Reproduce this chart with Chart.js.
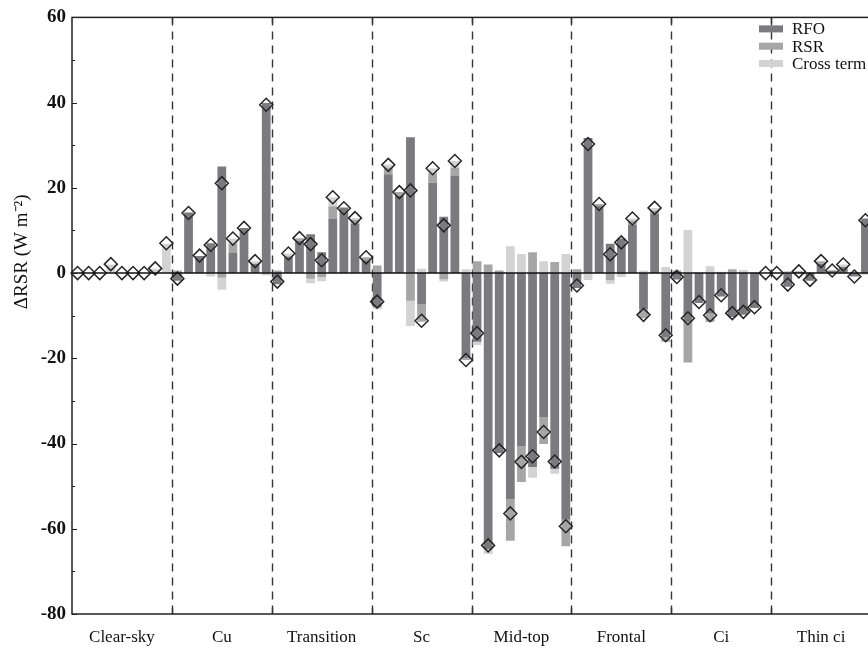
<!DOCTYPE html>
<html>
<head>
<meta charset="utf-8">
<script src="https://cdn.jsdelivr.net/npm/chart.js@4.4.1/dist/chart.umd.min.js"></script>
<style>
  html, body { margin: 0; padding: 0; background: #fff; overflow: hidden; width: 868px; height: 647px; }
  canvas { display: block; }
</style>
</head>
<body>
<canvas id="c" width="880" height="647"></canvas>
<script>
// ---------------- data ----------------
const groups = ['Clear-sky', 'Cu', 'Transition', 'Sc', 'Mid-top', 'Frontal', 'Ci', 'Thin ci'];
const barsPerGroup = 9;

const rfo = [
  0, 0, 0, 0, 0, 0, 0, 0, 0,                              // Clear-sky
  -1.8, 14.2, 4.0, 7.0, 25.0, 4.7, 10.6, 2.2, 39.9,       // Cu
  -2.6, 3.9, 7.6, 9.1, 4.9, 12.7, 15.4, 11.5, 3.0,        // Transition
  -8.0, 23.2, 18.2, 31.9, -7.4, 21.2, 13.2, 22.9, -20.0,  // Sc
  -16.1, -64.8, -42.2, -53.1, -40.6, -45.5, -33.8, -45.9, -57.9, // Mid-top
  -3.5, 31.7, 15.8, 6.9, 8.1, 11.3, -8.5, 13.9, -15.1,    // Frontal
  -1.5, -11.5, -7.0, -9.5, -5.5, -10.3, -9.8, -8.2, 0,    // Ci
  0, -3.2, 0.4, -1.8, 2.2, 0.6, 1.4, -0.8, 12.8           // Thin ci
];
const rsr = [
  0, 0, 0, 0, 0, 0, 0, 0, 0,
  0.6, 0, 0, 0, -1.1, 2.2, 0, 0, 0,
  0.6, 0, 0.6, -1.3, -0.9, 3.0, 0, 1.0, 0.7,
  1.8, 1.6, 0.8, -6.5, -4.0, 2.2, -1.5, 1.8, -0.4,
  2.8, 2.0, 0.6, -9.7, -8.4, 4.9, -6.3, 2.6, -6.2,
  0.9, 0, 0.4, -1.7, -0.3, 1.0, -2.1, 0.8, -1.0,
  0.6, -9.5, 0, -2.0, 0, 0.9, 0, 0, 0,
  0, 0, 0, 0, 0.6, 0, 0, 0, 0
];
const cross = [
  0, 0, 0, 2.0, 0, 0, 0, 1.0, 6.9,
  0, 0, 0, -0.8, -2.8, 1.2, 0, 0.6, -0.5,
  0, 0.7, 0, -1.1, -1.0, 2.1, 0, 0.4, 0,
  -0.5, 0.7, 0, -5.9, 1.0, 1.2, -0.5, 1.6, 0.9,
  -0.8, -1.1, 0, 6.3, 4.5, -2.5, 2.8, -1.2, 4.5,
  0, -1.6, 0, -0.8, -0.6, 0.5, 0.6, 0.6, 1.4,
  0, 10.1, 0.2, 1.6, 0.3, 0, 0.7, 0.2, 0,
  0, 0.5, 0, 0.2, 0, 0, 0.6, 0, -0.4
];
const total = [
  0, 0, 0, 2.1, 0, 0, 0, 1.1, 7.0,
  -1.3, 14.1, 4.1, 6.6, 21.1, 8.1, 10.6, 2.8, 39.5,
  -2.0, 4.6, 8.2, 6.8, 3.0, 17.8, 15.2, 12.9, 3.7,
  -6.7, 25.4, 19.0, 19.4, -11.2, 24.6, 11.2, 26.3, -20.4,
  -14.1, -63.9, -41.6, -56.4, -44.3, -43.0, -37.3, -44.2, -59.4,
  -2.9, 30.3, 16.2, 4.4, 7.2, 12.8, -9.8, 15.3, -14.6,
  -0.9, -10.6, -6.8, -9.9, -5.2, -9.4, -9.1, -8.0, 0,
  0, -2.7, 0.4, -1.6, 2.8, 0.6, 2.0, -0.8, 12.4
];

const yMin = -80, yMax = 60, yMajorStep = 20, yMinorStep = 10;
const yTitle = 'ΔRSR (W m⁻²)';

// category labels built from the groups
const labels = [];
groups.forEach(g => { for (let i = 0; i < barsPerGroup; i++) labels.push(g + ' ' + (i + 1)); });

const colRFO = '#7b7b7f', colRSR = '#a6a6a6', colCross = '#d3d3d3';
const serif = "'Liberation Serif', 'Times New Roman', serif";

// ---------------- decorations plugin ----------------
const frame = {
  id: 'frame',
  beforeDatasetsDraw(chart) {
    const {ctx, chartArea: a, scales: {x}} = chart;
    ctx.save();
    ctx.strokeStyle = '#333';
    ctx.lineWidth = 1.4;
    for (let g = 1; g < groups.length; g++) {
      const i = g * barsPerGroup;
      const px = Math.round((x.getPixelForValue(i - 1) + x.getPixelForValue(i)) / 2) + 0.5;
      ctx.setLineDash([8, 6]);
      ctx.beginPath(); ctx.moveTo(px, a.top); ctx.lineTo(px, a.bottom); ctx.stroke();
      ctx.setLineDash([]);
      ctx.beginPath();
      ctx.moveTo(px, a.top); ctx.lineTo(px, a.top + 6);
      ctx.moveTo(px, a.bottom); ctx.lineTo(px, a.bottom - 6);
      ctx.stroke();
    }
    ctx.restore();
  },
  afterDatasetsDraw(chart) {
    const {ctx, chartArea: a, scales: {y}} = chart;
    ctx.save();
    // zero line
    const y0 = y.getPixelForValue(0);
    ctx.strokeStyle = '#111';
    ctx.lineWidth = 1.5;
    ctx.beginPath(); ctx.moveTo(a.left, y0); ctx.lineTo(a.right, y0); ctx.stroke();
    // frame
    ctx.strokeStyle = '#222';
    ctx.lineWidth = 1.5;
    ctx.strokeRect(a.left, a.top, a.right - a.left, a.bottom - a.top);
    // inward y ticks
    ctx.lineWidth = 1;
    for (let v = yMin; v <= yMax; v += yMinorStep) {
      const py = Math.round(y.getPixelForValue(v)) + 0.5;
      const len = (v % yMajorStep === 0) ? 5 : 3;
      ctx.beginPath(); ctx.moveTo(a.left, py); ctx.lineTo(a.left + len, py); ctx.stroke();
    }
    // legend
    const items = chart.data.datasets.filter(d => d.type !== 'line');
    ctx.font = '17px ' + serif;
    ctx.textBaseline = 'middle';
    ctx.textAlign = 'left';
    items.forEach((d, k) => {
      const cy = a.top + 11.5 + k * 17.3;
      const bx = a.right - 112;
      ctx.fillStyle = d.backgroundColor;
      ctx.fillRect(bx, cy - 3.5, 24, 7);
      ctx.fillStyle = '#111';
      ctx.fillText(d.label, bx + 33, cy + 1);
    });
    // y-axis title
    ctx.translate(22, y.getPixelForValue(5));
    ctx.rotate(-Math.PI / 2);
    ctx.font = '19px ' + serif;
    ctx.textAlign = 'center';
    ctx.textBaseline = 'middle';
    ctx.fillStyle = '#111';
    ctx.fillText(yTitle, 0, 0);
    ctx.restore();
  }
};

new Chart(document.getElementById('c'), {
  data: {
    labels: labels,
    datasets: [
      { type: 'line', label: 'Total', data: total, order: 0, stack: 'tot',
        showLine: false, pointStyle: 'rectRot', pointRadius: 6.5, pointHoverRadius: 6.5,
        pointBorderColor: '#262626', pointBackgroundColor: 'rgba(0,0,0,0)', pointBorderWidth: 1.5,
        borderColor: '#262626', backgroundColor: 'rgba(0,0,0,0)' },
      { type: 'bar', label: 'RFO', data: rfo, order: 1, stack: 'a', backgroundColor: colRFO },
      { type: 'bar', label: 'RSR', data: rsr, order: 2, stack: 'a', backgroundColor: colRSR },
      { type: 'bar', label: 'Cross term', data: cross, order: 3, stack: 'a', backgroundColor: colCross }
    ]
  },
  options: {
    responsive: false,
    animation: false,
    layout: { padding: { top: 14, right: 9, left: 0, bottom: 0 } },
    datasets: { bar: { categoryPercentage: 1.0, barPercentage: 0.79, borderWidth: 0 } },
    plugins: { legend: { display: false }, tooltip: { enabled: false } },
    scales: {
      x: {
        type: 'category',
        offset: true,
        grid: { display: false, drawTicks: false },
        border: { display: false },
        afterFit(s) { s.height = 33; },
        ticks: {
          autoSkip: false, maxRotation: 0, minRotation: 0, padding: 13,
          color: '#111', font: { family: serif, size: 17 },
          callback: (v, i) => (i % barsPerGroup === 4) ? groups[Math.floor(i / barsPerGroup)] : ''
        }
      },
      y: {
        stacked: true,
        min: yMin, max: yMax,
        grid: { display: false, drawTicks: false },
        border: { display: false },
        afterFit(s) { s.width = 72; },
        ticks: {
          stepSize: yMinorStep, padding: 6, color: '#111',
          font: { family: serif, size: 19, weight: 'bold' },
          callback: v => (v % yMajorStep === 0) ? String(v) : ''
        },
        title: { display: false, text: yTitle }
      }
    }
  },
  plugins: [frame]
});
</script>
</body>
</html>
